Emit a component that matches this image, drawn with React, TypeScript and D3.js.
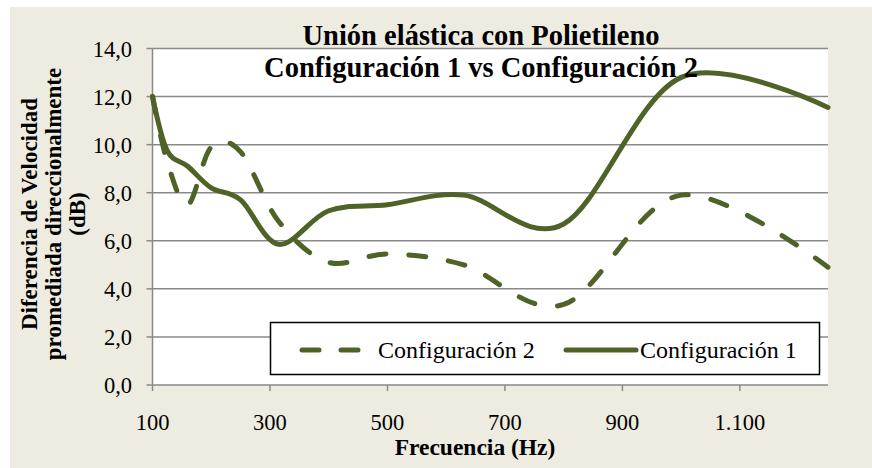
import React from "react";
import * as d3 from "d3";

// 1/3 octave band centres (Hz)
const freqs = [100, 125, 160, 200, 250, 315, 400, 500, 630, 800, 1000, 1250];
const config1 = [12.0, 9.75, 9.1, 8.2, 7.7, 5.85, 7.25, 7.5, 7.9, 6.7, 12.8, 11.55];
const config2 = [12.0, 9.3, 7.5, 9.9, 9.7, 6.8, 5.1, 5.45, 5.0, 3.35, 7.9, 4.9];

const xTicks = [100, 300, 500, 700, 900, 1100];
const yTicks = [0, 2, 4, 6, 8, 10, 12, 14];
const legendNames = ["Configuración 2", "Configuración 1"];
const titleLines = ["Unión elástica con Polietileno", "Configuración 1 vs Configuración 2"];
const yTitleLines = ["Diferencia de Velocidad", "promediada direccionalmente", "(dB)"];

const W = 872;
const H = 468;
const M = { left: 152.5, right: 828, top: 48.5, bottom: 385 };
const GREEN = "#4F6228";
const FONT = "'Liberation Serif', 'Times New Roman', serif";

const loc = d3.formatLocale({ decimal: ",", thousands: ".", grouping: [3], currency: ["", ""] });
const fmtX = loc.format(",d");
const fmtY = loc.format(".1f");

export default function App() {
  const x = d3.scaleLinear().domain([100, 1250]).range([M.left, M.right]);
  const y = d3.scaleLinear().domain([0, 14]).range([M.bottom, M.top]);

  const line = d3
    .line<number>()
    .x((_, i) => x(freqs[i]))
    .y((d) => y(d))
    .curve(d3.curveCardinal.tension(0));

  const dash = "17 23";

  return (
    <svg
      width={W}
      height={H}
      style={{ position: "absolute", left: 0, top: 0, display: "block" }}
      fontFamily={FONT}
    >
      <rect x={0} y={0} width={W} height={H} fill="#ffffff" />
      <rect x={10} y={7} width={W - 10} height={H - 7} fill="#EEECE1" />
      <rect x={M.left} y={M.top} width={M.right - M.left} height={M.bottom - M.top} fill="#ffffff" />

      {/* grid */}
      {yTicks.map((t) => (
        <line key={t} x1={M.left} x2={M.right} y1={y(t)} y2={y(t)} stroke="#898989" strokeWidth={1.5} />
      ))}

      {/* axes */}
      <line x1={M.left} x2={M.left} y1={M.top} y2={M.bottom} stroke="#898989" strokeWidth={1.5} />
      {yTicks.map((t) => (
        <g key={t}>
          <line x1={M.left - 6} x2={M.left} y1={y(t)} y2={y(t)} stroke="#898989" strokeWidth={1.5} />
          <text x={132} y={y(t) + 8} textAnchor="end" fontSize={22.5} fill="#000">
            {fmtY(t)}
          </text>
        </g>
      ))}
      {xTicks.map((t) => (
        <g key={t}>
          <line x1={x(t)} x2={x(t)} y1={M.bottom} y2={M.bottom + 6} stroke="#898989" strokeWidth={1.5} />
          <text x={x(t)} y={430} textAnchor="middle" fontSize={22.5} fill="#000">
            {fmtX(t)}
          </text>
        </g>
      ))}

      {/* series */}
      <path d={line(config2) || ""} fill="none" stroke={GREEN} strokeWidth={5} strokeDasharray={dash} strokeLinecap="round" />
      <path d={line(config1) || ""} fill="none" stroke={GREEN} strokeWidth={5} strokeLinecap="round" />

      {/* title */}
      {titleLines.map((t, i) => (
        <text key={t} x={481} y={44.5 + i * 32.5} textAnchor="middle" fontSize={28.5} fontWeight="bold" fill="#000">
          {t}
        </text>
      ))}

      {/* axis titles */}
      <text x={475} y={455} textAnchor="middle" fontSize={23.5} fontWeight="bold" fill="#000">
        Frecuencia (Hz)
      </text>
      <g transform="translate(0,214) rotate(-90)">
        {yTitleLines.map((t, i) => (
          <text key={t} x={0} y={37 + i * 24} textAnchor="middle" fontSize={23} fontWeight="bold" fill="#000">
            {t}
          </text>
        ))}
      </g>

      {/* legend */}
      <rect x={270.5} y={322.5} width={549} height={52} fill="#ffffff" stroke="#000" strokeWidth={1.5} />
      <line x1={302} x2={362} y1={350} y2={350} stroke={GREEN} strokeWidth={5} strokeDasharray="17 22" strokeLinecap="round" />
      <text x={378} y={358} fontSize={24} fill="#000">
        {legendNames[0]}
      </text>
      <line x1={566} x2={636} y1={350} y2={350} stroke={GREEN} strokeWidth={5} strokeLinecap="round" />
      <text x={640} y={358} fontSize={24} fill="#000">
        {legendNames[1]}
      </text>
    </svg>
  );
}
